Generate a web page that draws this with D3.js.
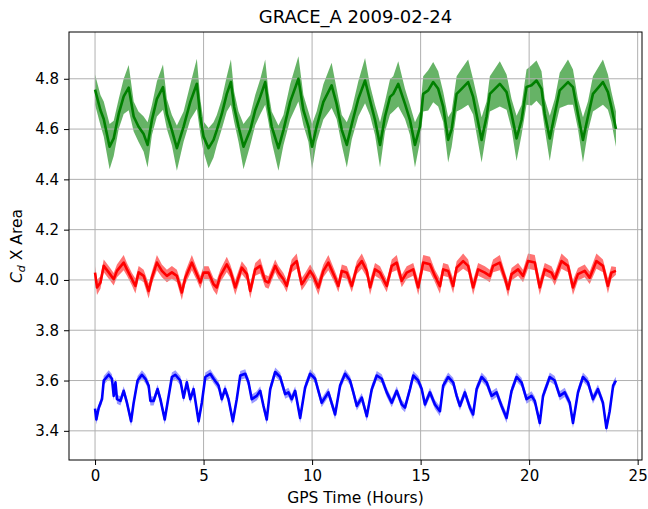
<!DOCTYPE html>
<html lang="en">
<head>
<meta charset="UTF-8">
<title>GRACE_A 2009-02-24</title>
<script src="https://d3js.org/d3.v7.min.js"></script>
<style>
  body { margin: 0; background: #fff; }
  svg text { font-family: "DejaVu Sans", sans-serif; fill: #000; }
</style>
</head>
<body>
<div id="chart"></div>
<script>
const title = "GRACE_A 2009-02-24";
const xLabel = "GPS Time (Hours)";
const xTicks = [0, 5, 10, 15, 20, 25];
const yTicks = [3.4, 3.6, 3.8, 4.0, 4.2, 4.4, 4.6, 4.8];

// [hour, value, half-width of the shaded band]
const green = [
  [0, 4.757, 0.06], [0.25, 4.675, 0.06], [0.4, 4.64, 0.07], [0.67, 4.53, 0.09], [0.86, 4.563, 0.07],
  [1.09, 4.66, 0.06], [1.32, 4.73, 0.07], [1.55, 4.765, 0.09], [1.78, 4.65, 0.06], [2.0, 4.61, 0.06],
  [2.24, 4.58, 0.07], [2.42, 4.537, 0.09], [2.62, 4.636, 0.06], [2.85, 4.72, 0.07], [3.13, 4.767, 0.09],
  [3.31, 4.66, 0.06], [3.54, 4.596, 0.06], [3.77, 4.524, 0.09], [4.08, 4.61, 0.06], [4.39, 4.708, 0.07],
  [4.69, 4.78, 0.1], [4.85, 4.65, 0.07], [5.0, 4.57, 0.06], [5.23, 4.524, 0.08], [5.46, 4.557, 0.07],
  [5.61, 4.596, 0.06], [5.84, 4.66, 0.06], [6.07, 4.74, 0.07], [6.26, 4.787, 0.09], [6.41, 4.688, 0.06],
  [6.61, 4.61, 0.06], [6.84, 4.53, 0.09], [7.15, 4.596, 0.06], [7.38, 4.675, 0.06], [7.61, 4.728, 0.07],
  [7.84, 4.787, 0.09], [7.99, 4.688, 0.06], [8.14, 4.61, 0.06], [8.45, 4.524, 0.09], [8.68, 4.596, 0.06],
  [8.99, 4.708, 0.07], [9.37, 4.8, 0.09], [9.6, 4.675, 0.06], [9.83, 4.61, 0.06], [10.0, 4.53, 0.09],
  [10.21, 4.61, 0.06], [10.52, 4.708, 0.07], [10.9, 4.774, 0.09], [11.13, 4.70, 0.06], [11.37, 4.596, 0.06],
  [11.6, 4.537, 0.09], [11.83, 4.62, 0.06], [12.13, 4.72, 0.07], [12.44, 4.793, 0.09], [12.67, 4.714, 0.06],
  [12.9, 4.636, 0.06], [13.13, 4.537, 0.09], [13.36, 4.65, 0.06], [13.59, 4.728, 0.07], [13.74, 4.74, 0.07],
  [13.97, 4.78, 0.09], [14.28, 4.70, 0.06], [14.51, 4.636, 0.06], [14.74, 4.537, 0.09], [14.97, 4.61, 0.06],
  [15.12, 4.74, 0.07], [15.35, 4.754, 0.08], [15.58, 4.787, 0.08], [15.81, 4.76, 0.07], [16.04, 4.688, 0.06],
  [16.27, 4.557, 0.09], [16.43, 4.6, 0.07], [16.66, 4.74, 0.07], [16.89, 4.76, 0.08], [17.19, 4.787, 0.09],
  [17.42, 4.728, 0.07], [17.81, 4.557, 0.09], [18.04, 4.65, 0.06], [18.19, 4.74, 0.07], [18.42, 4.76, 0.08],
  [18.65, 4.78, 0.09], [18.96, 4.747, 0.07], [19.19, 4.66, 0.06], [19.42, 4.563, 0.09], [19.65, 4.636, 0.06],
  [19.88, 4.767, 0.07], [20.11, 4.774, 0.08], [20.34, 4.793, 0.08], [20.57, 4.76, 0.07], [20.72, 4.66, 0.06],
  [20.95, 4.563, 0.09], [21.18, 4.66, 0.06], [21.41, 4.754, 0.07], [21.79, 4.787, 0.09], [22.02, 4.767, 0.07],
  [22.25, 4.66, 0.06], [22.48, 4.557, 0.09], [22.71, 4.65, 0.06], [22.94, 4.74, 0.07], [23.4, 4.787, 0.09],
  [23.63, 4.747, 0.07], [23.79, 4.688, 0.06], [24.0, 4.6, 0.07]
];

const red = [
  [0, 4.029, 0.025], [0.09, 3.97, 0.03], [0.25, 3.99, 0.025], [0.4, 4.056, 0.025], [0.63, 4.03, 0.025],
  [0.86, 4.003, 0.025], [1.01, 4.036, 0.025], [1.32, 4.069, 0.03], [1.47, 4.042, 0.025], [1.7, 4.003, 0.025],
  [1.86, 3.976, 0.03], [2.01, 4.03, 0.025], [2.24, 4.016, 0.025], [2.47, 3.956, 0.03], [2.62, 4.009, 0.025],
  [2.85, 4.069, 0.03], [3.08, 4.036, 0.025], [3.31, 4.016, 0.025], [3.54, 4.03, 0.025], [3.77, 4.016, 0.025],
  [4.0, 3.95, 0.03], [4.16, 4.009, 0.025], [4.46, 4.069, 0.03], [4.69, 4.023, 0.025], [4.85, 3.99, 0.025],
  [5.0, 4.029, 0.025], [5.23, 4.029, 0.025], [5.46, 3.983, 0.025], [5.61, 3.97, 0.03], [5.77, 4.016, 0.025],
  [6.07, 4.062, 0.03], [6.23, 4.036, 0.025], [6.46, 3.97, 0.03], [6.76, 4.049, 0.025], [7.0, 4.023, 0.025],
  [7.15, 3.956, 0.03], [7.38, 4.042, 0.025], [7.61, 4.056, 0.03], [7.84, 3.996, 0.025], [7.99, 3.99, 0.025],
  [8.3, 4.056, 0.025], [8.45, 4.03, 0.025], [8.68, 4.003, 0.025], [8.83, 3.976, 0.025], [9.06, 4.056, 0.025],
  [9.29, 4.075, 0.03], [9.52, 3.983, 0.025], [9.68, 4.003, 0.025], [9.91, 4.036, 0.025], [10.06, 4.016, 0.025],
  [10.29, 3.97, 0.03], [10.52, 4.036, 0.025], [10.75, 4.069, 0.03], [11.06, 4.009, 0.025], [11.21, 3.976, 0.025],
  [11.37, 4.036, 0.025], [11.6, 4.029, 0.025], [11.83, 3.976, 0.025], [12.06, 4.049, 0.025], [12.29, 4.075, 0.03],
  [12.52, 4.036, 0.025], [12.67, 3.97, 0.03], [12.9, 4.042, 0.025], [13.13, 4.029, 0.025], [13.28, 4.003, 0.025],
  [13.44, 3.976, 0.025], [13.67, 4.056, 0.025], [13.9, 4.069, 0.03], [14.13, 3.996, 0.025], [14.36, 4.029, 0.025],
  [14.66, 4.042, 0.025], [14.89, 3.97, 0.03], [15.12, 4.069, 0.03], [15.43, 4.062, 0.03], [15.66, 4.016, 0.025],
  [15.89, 3.975, 0.03], [16.04, 4.042, 0.025], [16.27, 4.036, 0.025], [16.5, 3.976, 0.03], [16.66, 4.049, 0.025],
  [16.96, 4.075, 0.03], [17.19, 4.056, 0.025], [17.42, 3.97, 0.03], [17.65, 4.042, 0.025], [17.96, 4.029, 0.025],
  [18.19, 4.016, 0.025], [18.34, 4.056, 0.025], [18.65, 4.069, 0.03], [18.88, 4.009, 0.025], [19.03, 3.963, 0.03],
  [19.19, 4.023, 0.025], [19.49, 4.042, 0.025], [19.72, 4.016, 0.025], [19.95, 4.075, 0.03], [20.26, 4.069, 0.03],
  [20.49, 3.97, 0.03], [20.72, 4.042, 0.025], [21.03, 4.029, 0.025], [21.18, 4.003, 0.025], [21.49, 4.075, 0.03],
  [21.79, 4.056, 0.025], [22.02, 3.97, 0.03], [22.25, 4.023, 0.025], [22.56, 4.036, 0.025], [22.79, 4.009, 0.025],
  [23.1, 4.075, 0.03], [23.4, 4.056, 0.025], [23.63, 3.976, 0.03], [23.79, 4.029, 0.025], [24.0, 4.036, 0.015]
];

const blue = [
  [0, 3.488, 0.015], [0.06, 3.445, 0.02], [0.17, 3.492, 0.015], [0.32, 3.526, 0.018], [0.4, 3.6, 0.018],
  [0.63, 3.623, 0.018], [0.78, 3.607, 0.018], [0.86, 3.539, 0.018], [0.94, 3.593, 0.018], [1.01, 3.526, 0.018],
  [1.17, 3.519, 0.018], [1.32, 3.559, 0.018], [1.47, 3.512, 0.018], [1.66, 3.438, 0.02], [1.78, 3.512, 0.018],
  [1.96, 3.6, 0.018], [2.16, 3.623, 0.018], [2.32, 3.607, 0.018], [2.47, 3.58, 0.018], [2.55, 3.519, 0.018],
  [2.7, 3.519, 0.018], [2.88, 3.566, 0.018], [3.01, 3.526, 0.018], [3.21, 3.445, 0.02], [3.34, 3.512, 0.018],
  [3.54, 3.614, 0.018], [3.7, 3.623, 0.018], [3.93, 3.6, 0.018], [4.08, 3.532, 0.018], [4.23, 3.593, 0.018],
  [4.39, 3.526, 0.018], [4.54, 3.566, 0.018], [4.77, 3.438, 0.02], [4.92, 3.512, 0.018], [5.08, 3.614, 0.018],
  [5.31, 3.627, 0.018], [5.46, 3.607, 0.018], [5.69, 3.58, 0.018], [5.84, 3.526, 0.018], [5.99, 3.566, 0.018],
  [6.15, 3.526, 0.018], [6.35, 3.438, 0.02], [6.53, 3.526, 0.018], [6.69, 3.62, 0.018], [6.92, 3.627, 0.018],
  [7.07, 3.593, 0.018], [7.22, 3.526, 0.018], [7.45, 3.539, 0.018], [7.61, 3.559, 0.018], [7.76, 3.499, 0.018],
  [7.91, 3.445, 0.02], [8.07, 3.566, 0.018], [8.3, 3.634, 0.018], [8.53, 3.614, 0.018], [8.76, 3.546, 0.018],
  [8.91, 3.553, 0.018], [9.06, 3.526, 0.018], [9.22, 3.559, 0.018], [9.45, 3.451, 0.02], [9.68, 3.573, 0.018],
  [9.91, 3.627, 0.018], [10.14, 3.607, 0.018], [10.29, 3.559, 0.018], [10.44, 3.512, 0.018], [10.75, 3.553, 0.018],
  [11.06, 3.465, 0.02], [11.29, 3.58, 0.018], [11.52, 3.627, 0.018], [11.75, 3.6, 0.018], [11.9, 3.553, 0.018],
  [12.06, 3.499, 0.018], [12.29, 3.532, 0.018], [12.52, 3.458, 0.02], [12.75, 3.566, 0.018], [12.98, 3.62, 0.018],
  [13.21, 3.607, 0.018], [13.44, 3.553, 0.018], [13.67, 3.512, 0.018], [13.9, 3.559, 0.018], [14.13, 3.505, 0.018],
  [14.28, 3.492, 0.018], [14.51, 3.566, 0.018], [14.66, 3.62, 0.018], [14.89, 3.6, 0.018], [15.05, 3.566, 0.018],
  [15.2, 3.505, 0.018], [15.43, 3.553, 0.018], [15.66, 3.505, 0.018], [15.89, 3.478, 0.02], [16.04, 3.58, 0.018],
  [16.27, 3.614, 0.018], [16.5, 3.593, 0.018], [16.66, 3.539, 0.018], [16.81, 3.499, 0.018], [17.04, 3.553, 0.018],
  [17.27, 3.492, 0.018], [17.42, 3.465, 0.02], [17.58, 3.566, 0.018], [17.81, 3.614, 0.018], [18.04, 3.593, 0.018],
  [18.27, 3.539, 0.018], [18.5, 3.553, 0.018], [18.73, 3.499, 0.018], [18.96, 3.451, 0.02], [19.19, 3.559, 0.018],
  [19.42, 3.614, 0.018], [19.65, 3.593, 0.018], [19.88, 3.526, 0.018], [20.11, 3.539, 0.018], [20.26, 3.519, 0.018],
  [20.49, 3.431, 0.02], [20.64, 3.539, 0.018], [20.95, 3.614, 0.018], [21.18, 3.6, 0.018], [21.41, 3.539, 0.018],
  [21.64, 3.553, 0.018], [21.87, 3.512, 0.018], [22.02, 3.431, 0.02], [22.25, 3.553, 0.018], [22.48, 3.614, 0.018],
  [22.71, 3.593, 0.018], [22.94, 3.526, 0.018], [23.17, 3.566, 0.018], [23.4, 3.512, 0.018], [23.56, 3.411, 0.02],
  [23.71, 3.478, 0.018], [23.87, 3.58, 0.018], [24.0, 3.6, 0.015]
];

const series = [
  { data: green, line: "#008000", band: "#008000", bandOpacity: 0.6 },
  { data: red, line: "#ff0000", band: "#ff0000", bandOpacity: 0.55 },
  { data: blue, line: "#0000ff", band: "#0000ff", bandOpacity: 0.4 }
];

const W = 648, H = 509;
const plotLeft = 69, plotRight = 642, plotTop = 32, plotBottom = 460;

const svg = d3.select("#chart").append("svg")
    .attr("width", W)
    .attr("height", H);

const x = d3.scaleLinear().domain([-1.2, 25.2]).range([plotLeft, plotRight]);
const y = d3.scaleLinear().domain([3.284, 4.986]).range([plotBottom, plotTop]);

// shaded bands sit under the grid, as in matplotlib
const area = d3.area()
    .x(d => x(d[0]))
    .y0(d => y(d[1] - d[2]))
    .y1(d => y(d[1] + d[2]));

series.forEach(s => {
    svg.append("path")
        .datum(s.data)
        .attr("fill", s.band)
        .attr("fill-opacity", s.bandOpacity)
        .attr("d", area);
});

// grid
const grid = svg.append("g").attr("stroke", "#b0b0b0").attr("stroke-width", 1);
xTicks.forEach(t => {
    grid.append("line")
        .attr("x1", x(t)).attr("x2", x(t))
        .attr("y1", plotTop).attr("y2", plotBottom);
});
yTicks.forEach(t => {
    grid.append("line")
        .attr("x1", plotLeft).attr("x2", plotRight)
        .attr("y1", y(t)).attr("y2", y(t));
});

const line = d3.line()
    .x(d => x(d[0]))
    .y(d => y(d[1]));

series.forEach(s => {
    svg.append("path")
        .datum(s.data)
        .attr("fill", "none")
        .attr("stroke", s.line)
        .attr("stroke-width", 2.6)
        .attr("stroke-linejoin", "round")
        .attr("d", line);
});

// axes
const xAxis = svg.append("g")
    .attr("transform", `translate(0,${plotBottom})`)
    .call(d3.axisBottom(x).tickValues(xTicks).tickSize(5).tickPadding(5).tickFormat(d3.format("d")));
const yAxis = svg.append("g")
    .attr("transform", `translate(${plotLeft},0)`)
    .call(d3.axisLeft(y).tickValues(yTicks).tickSize(5).tickPadding(5).tickFormat(d3.format(".1f")));

[xAxis, yAxis].forEach(a => {
    a.select(".domain").remove();
    a.selectAll("text").attr("font-size", 15).attr("font-family", "DejaVu Sans, sans-serif");
    a.selectAll(".tick line").attr("stroke", "#000");
});

svg.append("rect")
    .attr("x", plotLeft).attr("y", plotTop)
    .attr("width", plotRight - plotLeft).attr("height", plotBottom - plotTop)
    .attr("fill", "none")
    .attr("stroke", "#000")
    .attr("stroke-width", 1);

svg.append("text")
    .attr("x", (plotLeft + plotRight) / 2)
    .attr("y", 23)
    .attr("text-anchor", "middle")
    .attr("font-size", 18)
    .text(title);

svg.append("text")
    .attr("x", (plotLeft + plotRight) / 2)
    .attr("y", 503)
    .attr("text-anchor", "middle")
    .attr("font-size", 15.5)
    .text(xLabel);

const yl = svg.append("text")
    .attr("transform", `translate(22,${(plotTop + plotBottom) / 2}) rotate(-90)`)
    .attr("text-anchor", "middle")
    .attr("font-size", 15.5);
yl.append("tspan").attr("font-style", "italic").text("C");
yl.append("tspan").attr("font-style", "italic").attr("font-size", 11).attr("dy", 3).text("d");
yl.append("tspan").attr("dy", -3).text(" X Area");
</script>
</body>
</html>
